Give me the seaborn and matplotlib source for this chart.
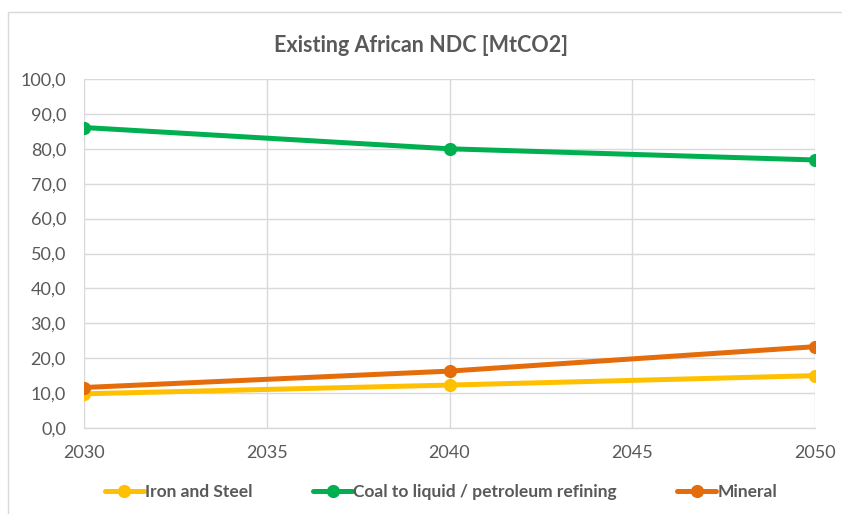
import matplotlib
matplotlib.use("Agg")
import matplotlib.pyplot as plt
import seaborn as sns
import pandas as pd
from matplotlib.ticker import FuncFormatter, MultipleLocator

years = [2030, 2040, 2050]
iron_steel = [9.8, 12.3, 15.0]
coal_to_liquid = [86.1, 80.0, 76.8]
mineral = [11.6, 16.3, 23.3]
series_names = ["Iron and Steel", "Coal to liquid / petroleum refining", "Mineral"]
series_colors = ["#FFC000", "#00B050", "#E46C0A"]
title = "Existing African NDC [MtCO2]"

df = pd.DataFrame({
    "year": years * 3,
    "value": iron_steel + coal_to_liquid + mineral,
    "series": [series_names[0]] * 3 + [series_names[1]] * 3 + [series_names[2]] * 3,
})

sns.set_theme(style="white")
plt.rcParams["font.family"] = ["Lato", "DejaVu Sans"]
text_color = "#595959"

W, H = 842, 514
fig = plt.figure(figsize=(W / 100, H / 100), dpi=100)
fig.patch.set_facecolor("white")
ax = fig.add_axes([84 / W, 1 - 428 / H, (815 - 84) / W, (428 - 79) / H])

sns.lineplot(data=df, x="year", y="value", hue="series", hue_order=series_names,
             palette=series_colors, marker="o", markersize=9.5, markeredgewidth=0,
             linewidth=3.6, ax=ax, legend=False)

ax.set_xlim(2030, 2050)
ax.set_ylim(0, 100)
ax.xaxis.set_major_locator(MultipleLocator(5))
ax.yaxis.set_major_locator(MultipleLocator(10))
ax.yaxis.set_major_formatter(FuncFormatter(lambda v, _: f"{v:.1f}".replace(".", ",")))
ax.grid(True, color="#D9D9D9", linewidth=1)
ax.set_axisbelow(True)
for side in ["left", "right", "top"]:
    ax.spines[side].set_visible(False)
ax.spines["bottom"].set_color("#D9D9D9")
ax.spines["bottom"].set_linewidth(1)
ax.tick_params(axis="both", colors=text_color, labelsize=13, length=0)
ax.tick_params(axis="y", pad=13)
ax.tick_params(axis="x", pad=12)
ax.set_xlabel("")
ax.set_ylabel("")

fig.text(0.5, 1 - 45 / H, title, ha="center", va="center",
         fontsize=15.5, fontweight="bold", color=text_color)

handles = [plt.Line2D([], [], color=c, marker="o", markersize=9.5, markeredgewidth=0,
                      linewidth=3.6) for c in series_colors]
fig.legend(handles, series_names, loc="center", bbox_to_anchor=(441 / W, 1 - 492 / H),
           ncol=3, frameon=False, prop={"size": 12.5, "weight": "bold"},
           labelcolor=text_color, handlelength=2.25, handletextpad=0.05,
           columnspacing=3.5)

# chart frame: left and top edges visible, others run past the canvas
border = plt.Rectangle((8 / W, -0.05), 1.1, 1 - 12 / H + 0.05, transform=fig.transFigure,
                       fill=False, edgecolor="#D9D9D9", linewidth=1)
fig.patches.append(border)

fig.savefig("out.png", dpi=100)
